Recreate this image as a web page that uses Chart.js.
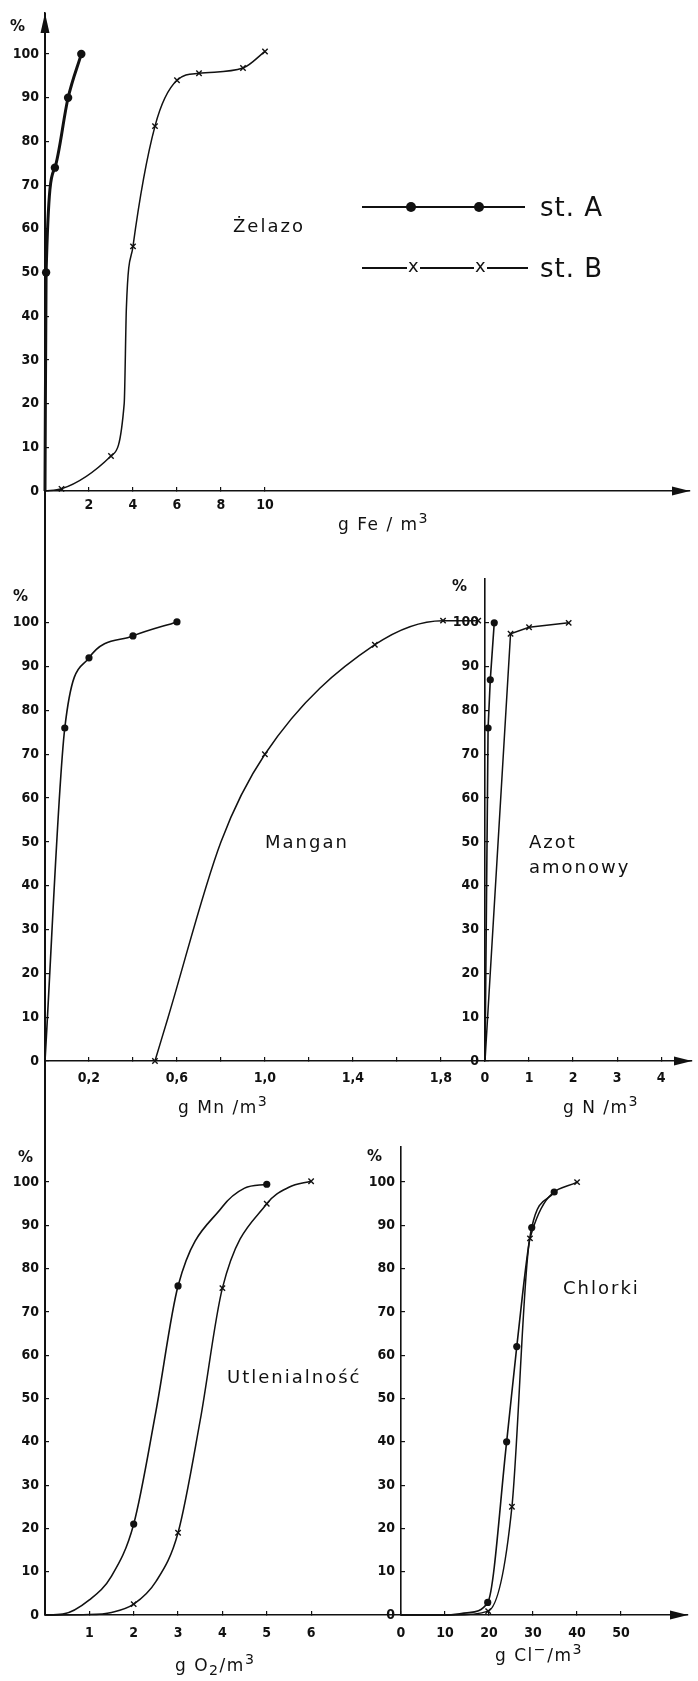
<!DOCTYPE html>
<html lang="pl">
<head>
<meta charset="utf-8">
<title>Żelazo, mangan, azot amonowy, utlenialność, chlorki</title>
<script src="https://cdn.jsdelivr.net/npm/chart.js@4.4.1/dist/chart.umd.min.js"></script>
<style>
  body { margin: 0; background: #fff; }
  #page { position: relative; width: 698px; height: 1681px; overflow: hidden; color: #111; font-family: 'DejaVu Sans', sans-serif; }
  canvas { position: absolute; }
  .t { position: absolute; white-space: nowrap; line-height: 1; transform: translateY(-50%); }
  .name { font-size: 18px; letter-spacing: 2px; }
  .unit { font-size: 17px; letter-spacing: 1.5px; }
  .pct { font-size: 15px; font-weight: bold; }
  .leg { font-size: 26px; letter-spacing: 1px; }
  .bar { position: absolute; background: #111; }
  .dot { position: absolute; width: 10px; height: 10px; border-radius: 50%; background: #111; }
  .xm { font-size: 18px; background: #fff; padding: 0 1px; }
</style>
</head>
<body>
<div id="page">
  <div class="bar" style="left:44px;top:13px;width:1.6px;height:1602px"></div>

  <canvas id="fe" width="698" height="542" style="left:0;top:-7px"></canvas>
  <canvas id="mn" width="490" height="550" style="left:0;top:559px"></canvas>
  <canvas id="nh" width="253" height="550" style="left:445px;top:559px"></canvas>
  <canvas id="o2" width="405" height="533" style="left:0;top:1127px"></canvas>
  <canvas id="cl" width="337" height="533" style="left:361px;top:1127px"></canvas>

  <div class="t pct" style="left:10px;top:26px">%</div>
  <div class="t pct" style="left:13px;top:596px">%</div>
  <div class="t pct" style="left:452px;top:586px">%</div>
  <div class="t pct" style="left:18px;top:1157px">%</div>
  <div class="t pct" style="left:367px;top:1156px">%</div>

  <div class="t name" style="left:233px;top:226px">Żelazo</div>
  <div class="t name" style="left:265px;top:842px">Mangan</div>
  <div class="t name" style="left:529px;top:842px">Azot</div>
  <div class="t name" style="left:529px;top:867px">amonowy</div>
  <div class="t name" style="left:227px;top:1377px">Utlenialność</div>
  <div class="t name" style="left:563px;top:1288px">Chlorki</div>

  <div class="t unit" style="left:338px;top:522px">g Fe / m<sup>3</sup></div>
  <div class="t unit" style="left:178px;top:1105px">g Mn /m<sup>3</sup></div>
  <div class="t unit" style="left:563px;top:1105px">g N /m<sup>3</sup></div>
  <div class="t unit" style="left:175px;top:1665px">g O<sub>2</sub>/m<sup>3</sup></div>
  <div class="t unit" style="left:495px;top:1653px">g Cl<sup>−</sup>/m<sup>3</sup></div>

  <div class="bar" style="left:362px;top:206px;width:163px;height:2px"></div>
  <div class="dot" style="left:406px;top:202px"></div>
  <div class="dot" style="left:474px;top:202px"></div>
  <div class="t leg" style="left:540px;top:207px">st. A</div>
  <div class="bar" style="left:362px;top:267px;width:166px;height:2px"></div>
  <div class="t xm" style="left:407px;top:266px">x</div>
  <div class="t xm" style="left:474px;top:266px">x</div>
  <div class="t leg" style="left:540px;top:268px">st. B</div>
</div>

<script>
const INK = '#111';
const TICK_FONT = { family: "'DejaVu Sans Condensed', 'DejaVu Sans', sans-serif", size: 14, weight: 'bold' };

// wspólna skala procentowa
const pctTicks = [0, 10, 20, 30, 40, 50, 60, 70, 80, 90, 100];

// Żelazo
const feTicks = [2, 4, 6, 8, 10];
const feLabels = ['2', '4', '6', '8', '10'];
const feA_x = [0, 0.05, 0.45, 1.05, 1.65];
const feA_y = [0, 50, 74, 90, 100];
const feA_mark = [0, 1, 1, 1, 1];
const feB_x = [0, 0.75, 3, 3.6, 3.7, 4, 5, 6, 7, 9, 10];
const feB_y = [0, 0.5, 8, 20, 42, 56, 83.5, 94, 95.6, 96.8, 100.6];
const feB_mark = [0, 1, 1, 0, 0, 1, 1, 1, 1, 1, 1];

// Mangan
const mnTicks = [0.2, 0.4, 0.6, 0.8, 1.0, 1.2, 1.4, 1.6, 1.8];
const mnLabels = ['0,2', '', '0,6', '', '1,0', '', '1,4', '', '1,8'];
const mnA_x = [0, 0.09, 0.2, 0.4, 0.6];
const mnA_y = [0, 76, 92, 97, 100.2];
const mnA_mark = [0, 1, 1, 1, 1];
const mnB_x = [0.5, 0.56, 0.8, 1.0, 1.5, 1.81, 1.97];
const mnB_y = [0, 10, 50, 70, 95, 100.5, 100.5];
const mnB_mark = [1, 0, 0, 1, 1, 1, 1];

// Azot amonowy
const nhTicks = [0, 1, 2, 3, 4];
const nhLabels = ['0', '1', '2', '3', '4'];
const nhA_x = [0, 0.07, 0.12, 0.21];
const nhA_y = [0, 76, 87, 100];
const nhA_mark = [0, 1, 1, 1];
const nhB_x = [0, 0.58, 1.0, 1.9];
const nhB_y = [0, 97.5, 99, 100];
const nhB_mark = [0, 1, 1, 1];

// Utlenialność
const o2Ticks = [1, 2, 3, 4, 5, 6];
const o2Labels = ['1', '2', '3', '4', '5', '6'];
const o2A_x = [0, 0.4, 1, 1.5, 2, 2.5, 3, 4, 4.5, 5];
const o2A_y = [0, 0.2, 3.5, 9, 21, 47, 76, 94.3, 98.6, 99.5];
const o2A_mark = [0, 0, 0, 0, 1, 0, 1, 0, 0, 1];
const o2B_x = [0, 1, 1.5, 2, 2.5, 3, 3.5, 4, 5, 5.5, 6];
const o2B_y = [0, 0.1, 0.6, 2.5, 7.7, 19, 45, 75.5, 95, 98.8, 100.2];
const o2B_mark = [0, 0, 0, 1, 0, 1, 0, 1, 1, 0, 1];

// Chlorki
const clTicks = [0, 10, 20, 30, 40, 50];
const clLabels = ['0', '10', '20', '30', '40', '50'];
const clA_x = [0, 10, 15, 19.7, 24, 26.3, 29.7, 34.8];
const clA_y = [0, 0, 0.5, 2.9, 40, 62, 89.5, 97.7];
const clA_mark = [0, 0, 0, 1, 1, 1, 1, 1];
const clB_x = [0, 12, 19.8, 25.2, 29.3, 40];
const clB_y = [0, 0, 0.9, 25, 87, 100];
const clB_mark = [0, 0, 1, 1, 1, 1];

// strzałki na końcach osi
const arrows = {
  id: 'arrows',
  afterDraw(chart, args, o) {
    const a = chart.chartArea, ctx = chart.ctx;
    ctx.save();
    ctx.fillStyle = INK;
    if (o.up) {
      ctx.beginPath();
      ctx.moveTo(a.left, a.top);
      ctx.lineTo(a.left - 4.5, a.top + 20);
      ctx.lineTo(a.left + 4.5, a.top + 20);
      ctx.closePath();
      ctx.fill();
    }
    if (o.right) {
      ctx.beginPath();
      ctx.moveTo(a.right, a.bottom);
      ctx.lineTo(a.right - 18, a.bottom - 4.5);
      ctx.lineTo(a.right - 18, a.bottom + 4.5);
      ctx.closePath();
      ctx.fill();
    }
    ctx.restore();
  }
};

function series(xs, ys, marks, style) {
  return {
    data: xs.map((x, i) => ({ x: x, y: ys[i] })),
    showLine: true,
    fill: false,
    borderColor: INK,
    borderWidth: style.width,
    backgroundColor: INK,
    pointStyle: style.point,
    pointRadius: marks.map(m => m ? style.radius : 0),
    pointHoverRadius: 0,
    pointBackgroundColor: INK,
    pointBorderColor: INK,
    pointBorderWidth: style.point === 'circle' ? 0 : 1.4,
    cubicInterpolationMode: style.straight ? 'default' : 'monotone',
    tension: 0,
    clip: false
  };
}

function axisCommon() {
  return {
    grid: { drawOnChartArea: false, tickLength: -4, color: INK, lineWidth: 1.2 },
    border: { color: INK, width: 1.6 }
  };
}

function drawPanel(id, p) {
  return new Chart(document.getElementById(id), {
    type: 'scatter',
    data: { datasets: p.sets },
    options: {
      responsive: false,
      animation: false,
      events: [],
      layout: { padding: p.pad },
      plugins: { legend: { display: false }, tooltip: { enabled: false }, arrows: p.arrows },
      scales: {
        x: Object.assign(axisCommon(), {
          type: 'linear', min: p.xMin, max: p.xMax,
          afterBuildTicks: s => { s.ticks = p.xTicks.map(v => ({ value: v })); },
          afterFit: s => { s.height = p.xh; },
          ticks: { callback: (v, i) => p.xLabels[i], font: TICK_FONT, color: INK, padding: p.xPad, maxRotation: 0, autoSkip: false }
        }),
        y: Object.assign(axisCommon(), {
          type: 'linear', min: 0, max: p.yMax,
          afterBuildTicks: s => { s.ticks = pctTicks.map(v => ({ value: v })); },
          afterFit: s => { s.width = p.yw; },
          ticks: { callback: v => String(v), font: TICK_FONT, color: INK, padding: 10, autoSkip: false }
        })
      }
    },
    plugins: [arrows]
  });
}

const dotBold = { point: 'circle', radius: 4.2, width: 3 };
const dot = { point: 'circle', radius: 3.6, width: 1.6 };
const cross = { point: 'crossRot', radius: 3.8, width: 1.5 };
const dotStraight = Object.assign({}, dot, { straight: true });
const crossStraight = Object.assign({}, cross, { straight: true });

drawPanel('fe', {
  xMin: 0, xMax: 29.32, yMax: 109.4, xTicks: feTicks, xLabels: feLabels,
  yw: 45, xh: 44, xPad: 10, pad: { top: 20, right: 8, left: 0, bottom: 0 },
  arrows: { up: true, right: true },
  sets: [series(feA_x, feA_y, feA_mark, dotBold), series(feB_x, feB_y, feB_mark, cross)]
});

drawPanel('mn', {
  xMin: 0, xMax: 2.0, yMax: 110, xTicks: mnTicks, xLabels: mnLabels,
  yw: 45, xh: 48, xPad: 13, pad: { top: 20, right: 5, left: 0, bottom: 0 },
  arrows: {},
  sets: [series(mnA_x, mnA_y, mnA_mark, dot), series(mnB_x, mnB_y, mnB_mark, cross)]
});

drawPanel('nh', {
  xMin: 0, xMax: 4.7, yMax: 110, xTicks: nhTicks, xLabels: nhLabels,
  yw: 40, xh: 48, xPad: 13, pad: { top: 20, right: 6, left: 0, bottom: 0 },
  arrows: { right: true },
  sets: [series(nhA_x, nhA_y, nhA_mark, dotStraight), series(nhB_x, nhB_y, nhB_mark, crossStraight)]
});

drawPanel('o2', {
  xMin: 0, xMax: 8.0, yMax: 108.1, xTicks: o2Ticks, xLabels: o2Labels,
  yw: 45, xh: 45, xPad: 14, pad: { top: 20, right: 4, left: 0, bottom: 0 },
  arrows: {},
  sets: [series(o2A_x, o2A_y, o2A_mark, dot), series(o2B_x, o2B_y, o2B_mark, cross)]
});

drawPanel('cl', {
  xMin: 0, xMax: 65.2, yMax: 108.1, xTicks: clTicks, xLabels: clLabels,
  yw: 40, xh: 45, xPad: 14, pad: { top: 20, right: 10, left: 0, bottom: 0 },
  arrows: { right: true },
  sets: [series(clA_x, clA_y, clA_mark, dot), series(clB_x, clB_y, clB_mark, cross)]
});
</script>
</body>
</html>
